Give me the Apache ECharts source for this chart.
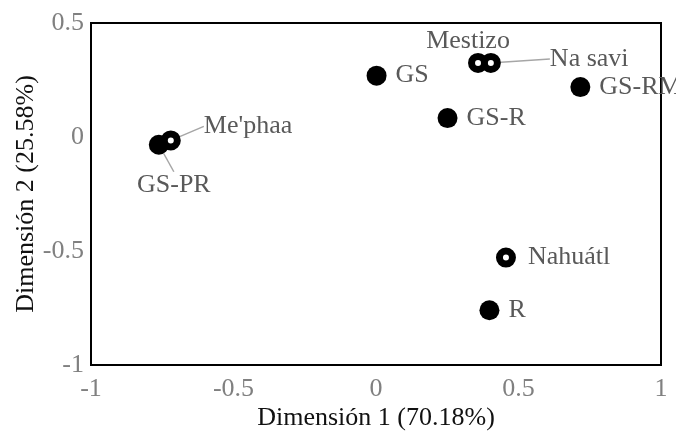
<!DOCTYPE html>
<html>
<head>
<meta charset="utf-8">
<script src="https://cdn.jsdelivr.net/npm/echarts@6/dist/echarts.min.js"></script>
<style>html,body{margin:0;padding:0;background:#fff}#c{width:676px;height:431px}</style>
</head>
<body>
<div id="c"></div>
<script>
// Data
const filledNames = ['GS', 'GS-R', 'GS-RM', 'GS-PR', 'R'];
const filledX = [0.002, 0.251, 0.717, -0.762, 0.398];
const filledY = [0.269, 0.083, 0.219, -0.034, -0.760];
const ringNames = ['Mestizo', 'Na savi', "Me'phaa", 'Nahuátl'];
const ringX = [0.358, 0.403, -0.720, 0.456];
const ringY = [0.325, 0.325, -0.015, -0.529];
const xTicks = [-1, -0.5, 0, 0.5, 1];
const yTicks = [-1, -0.5, 0, 0.5];

const FONT = 'Liberation Serif';
const LABEL_COLOR = '#595959';

// label placement (styling only)
const labelPlace = {
  'GS-PR': { position: 'bottom', dx: 15, dy: 8, line: true },
  'Mestizo': { position: 'top', dx: -10, dy: 13 },
  'Na savi': { position: 'right', dx: 37, dy: -4, line: true },
  "Me'phaa": { position: 'right', dx: 11, dy: -14, line: true }
};

function buildData(names, xs, ys) {
  return names.map((n, i) => {
    const p = labelPlace[n] || {};
    const item = { name: n, value: [xs[i], ys[i]] };
    if (p.position) item.label = { position: p.position };
    if (p.line) item.labelLine = { show: true };
    return item;
  });
}

function layoutFor(names) {
  return function (params) {
    const p = labelPlace[names[params.dataIndex]];
    if (p && (p.dx || p.dy)) return { dx: p.dx || 0, dy: p.dy || 0 };
    return {};
  };
}

const labelStyle = {
  show: true,
  formatter: '{b}',
  position: 'right',
  distance: 9,
  fontFamily: FONT,
  fontSize: 26,
  color: LABEL_COLOR
};

const chart = echarts.init(document.getElementById('c'));
chart.setOption({
  animation: false,
  grid: {
    left: 91, right: 15, top: 23, bottom: 66,
    containLabel: false, outerBoundsMode: 'none',
    show: true, borderColor: '#000', borderWidth: 2
  },
  xAxis: {
    type: 'value', min: xTicks[0], max: xTicks[xTicks.length - 1], interval: 0.5,
    name: 'Dimensión 1 (70.18%)', nameLocation: 'middle', nameGap: 40,
    nameMoveOverlap: false,
    nameTextStyle: { fontFamily: FONT, fontSize: 26, color: '#111' },
    axisLine: { show: false }, axisTick: { show: false }, splitLine: { show: false },
    axisLabel: { fontFamily: FONT, fontSize: 26, color: '#808080', margin: 11 }
  },
  yAxis: {
    type: 'value', min: yTicks[0], max: yTicks[yTicks.length - 1], interval: 0.5,
    name: 'Dimensión 2 (25.58%)', nameLocation: 'middle', nameGap: 52, nameRotate: 90,
    nameMoveOverlap: false,
    nameTextStyle: { fontFamily: FONT, fontSize: 26, color: '#111' },
    axisLine: { show: false }, axisTick: { show: false }, splitLine: { show: false },
    axisLabel: { fontFamily: FONT, fontSize: 26, color: '#808080', margin: 7 }
  },
  series: [
    {
      type: 'scatter',
      symbol: 'circle',
      symbolSize: 20,
      itemStyle: { color: '#000', opacity: 1 },
      label: labelStyle,
      labelLine: { show: false, lineStyle: { color: '#a6a6a6', width: 1.5 } },
      labelLayout: layoutFor(filledNames),
      data: buildData(filledNames, filledX, filledY),
      z: 2
    },
    {
      type: 'scatter',
      symbol: 'circle',
      symbolSize: 13,
      itemStyle: { color: '#fff', borderColor: '#000', borderWidth: 7, opacity: 1 },
      label: Object.assign({}, labelStyle, { distance: 12 }),
      labelLine: { show: false, lineStyle: { color: '#a6a6a6', width: 1.5 } },
      labelLayout: layoutFor(ringNames),
      data: buildData(ringNames, ringX, ringY),
      z: 3
    }
  ]
});
</script>
</body>
</html>
